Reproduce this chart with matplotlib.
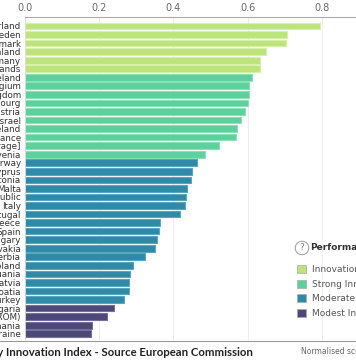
import matplotlib
matplotlib.use('Agg')
import matplotlib.pyplot as plt
from matplotlib.patches import Patch

countries = ['Switzerland', 'Sweden', 'Denmark', 'Finland', 'Germany', 'Netherlands',
             'Iceland', 'Belgium', 'United Kingdom', 'Luxembourg', 'Austria', 'Israel',
             'Ireland', 'France', 'EU [average]', 'Slovenia',
             'Norway', 'Cyprus', 'Estonia', 'Malta', 'Czech Republic', 'Italy',
             'Portugal', 'Greece', 'Spain', 'Hungary', 'Slovakia', 'Serbia', 'Poland',
             'Lithuania', 'Latvia', 'Croatia', 'Turkey',
             'Bulgaria', 'Former Yugoslav Republic of Macedonia (FYROM)', 'Romania', 'Ukraine']
scores = [0.795, 0.705, 0.703, 0.650, 0.633, 0.633,
          0.611, 0.605, 0.603, 0.600, 0.593, 0.582,
          0.572, 0.569, 0.523, 0.485,
          0.463, 0.450, 0.448, 0.437, 0.434, 0.432,
          0.418, 0.364, 0.361, 0.355, 0.350, 0.324, 0.290,
          0.283, 0.281, 0.280, 0.268,
          0.240, 0.220, 0.180, 0.178]
groups = [0] * 6 + [1] * 10 + [2] * 17 + [3] * 4
group_names = ['Innovation leaders', 'Strong Innovators', 'Moderate Innovators', 'Modest Innovators']
group_colors = ['#bde47c', '#5cd19b', '#2f8aa8', '#4c4877']
edge_colors = ['#d6f0a6', '#8ee0b8', '#5aa6c0', '#75719a']

fig = plt.figure(figsize=(3.56, 3.64), dpi=100)
W, H = 356, 364
ax = fig.add_axes([25 / W, 1 - 340 / H, 1 - 25 / W, (340 - 17) / H])

y = list(range(len(countries)))
ax.barh(y, scores, height=0.78,
        color=[group_colors[g] for g in groups],
        edgecolor=[edge_colors[g] for g in groups], linewidth=0.8, zorder=2)

ax.set_xlim(0, (W - 25) / 371)
ax.set_ylim(36.73, -1.05)
ax.set_yticks(y)
ax.set_yticklabels(countries, fontsize=6.3, color='#333333')
ax.set_xticks([0, 0.2, 0.4, 0.6, 0.8])
ax.set_xticklabels(['0.0', '0.2', '0.4', '0.6', '0.8'], fontsize=7, color='#666666')
ax.xaxis.tick_top()
ax.tick_params(axis='x', length=0, pad=3)
ax.tick_params(axis='y', length=0, pad=3)
ax.grid(axis='x', color='#eeeeee', linewidth=0.8, zorder=0)
for s in ['right', 'bottom']:
    ax.spines[s].set_visible(False)
ax.spines['top'].set_color('#aaaaaa')
ax.spines['left'].set_color('#dddddd')
ax.spines['left'].set_linewidth(0.6)

# legend
handles = [Patch(facecolor=group_colors[i], edgecolor='#aaaaaa', linewidth=0.5, label=group_names[i])
           for i in range(4)]
leg = ax.legend(handles=handles, loc='upper left', bbox_to_anchor=(297 / W, 1 - 265 / H),
                bbox_transform=fig.transFigure, frameon=False, fontsize=6.5,
                handlelength=1.0, handleheight=1.0, handletextpad=0.65,
                labelspacing=0.6, borderpad=0, borderaxespad=0)
for t in leg.get_texts():
    t.set_color('#555555')
fig.text(302 / W, 1 - 248 / H, '?', fontsize=6.5, color='#777777', ha='center', va='center',
         bbox=dict(boxstyle='circle,pad=0.25', facecolor='white', edgecolor='#999999', linewidth=0.7))
fig.text(310 / W, 1 - 248 / H, 'Performance', fontsize=6.5, fontweight='bold',
         color='#333333', ha='left', va='center')

# footer
fig.add_artist(plt.Line2D([0, 1], [1 - 341 / H, 1 - 341 / H], color='#999999', linewidth=0.8))
fig.text(253 / W, 1 - 353 / H, 'Summary Innovation Index - Source European Commission',
         fontsize=8.2, fontweight='bold', family='Lato', color='#222222', ha='right', va='center')
fig.text(301 / W, 1 - 352 / H, 'Normalised score', fontsize=5.5, color='#666666',
         ha='left', va='center')

fig.savefig('out.png', dpi=100)
